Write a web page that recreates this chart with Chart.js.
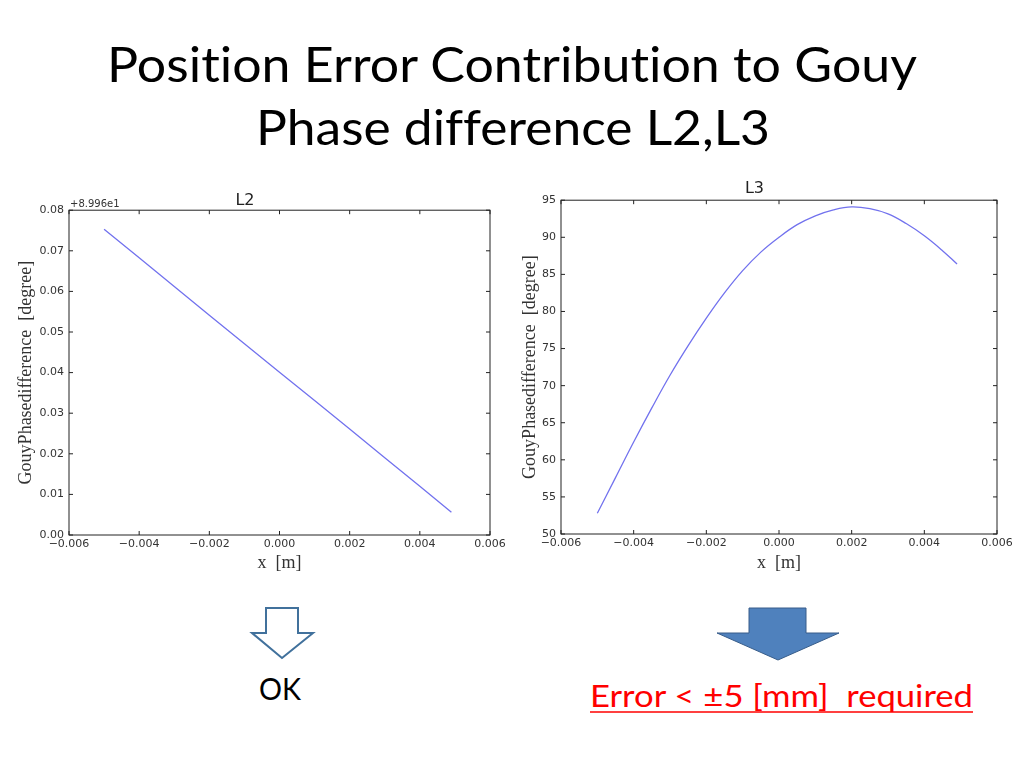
<!DOCTYPE html>
<html>
<head>
<meta charset="utf-8">
<script src="https://cdn.jsdelivr.net/npm/chart.js@4.4.1/dist/chart.umd.min.js"></script>
<style>
  html, body { margin: 0; padding: 0; background: #fff; }
  #slide { position: relative; width: 1024px; height: 768px; overflow: hidden; background: #fff; }
  #overlay { position: absolute; left: 0; top: 0; font-variant-ligatures: none; }
  #overlay text { white-space: pre; }
  .box { position: absolute; }
</style>
</head>
<body>
<div id="slide">
  <svg id="overlay" width="1024" height="768" font-family="Lato, 'Open Sans', sans-serif" xml:space="preserve">
    <text x="107" y="82" font-size="49" fill="#000" textLength="810" lengthAdjust="spacingAndGlyphs">Position Error Contribution to Gouy</text>
    <text x="256" y="145" font-size="49" fill="#000" textLength="514" lengthAdjust="spacingAndGlyphs">Phase difference L2,L3</text>

    <polygon points="266,608 298,608 298,633 313,633 282,658 252,633 266,633" fill="#fff" stroke="#41719c" stroke-width="2"/>
    <polygon points="749,608 806,608 806,633 839,633 778,660 717,633 749,633" fill="#4f81bd" stroke="#385d8a" stroke-width="1"/>

    <text x="259" y="700" font-size="31" fill="#000" textLength="42" lengthAdjust="spacingAndGlyphs">OK</text>
    <text x="590" y="707" font-size="31" fill="#ff0000" textLength="383" lengthAdjust="spacingAndGlyphs">Error &lt; ±5 [mm]  required</text>
    <line x1="590" y1="712" x2="973" y2="712" stroke="#ff0000" stroke-width="1.5"/>
  </svg>
  <div class="box" style="left:0;top:185px;width:512px;height:400px"><canvas id="c2" width="512" height="400"></canvas></div>
  <div class="box" style="left:512px;top:175px;width:512px;height:410px"><canvas id="c3" width="512" height="410"></canvas></div>
</div>

<script>
// L2 (values shown relative to the +8.996e1 offset)
const l2X = [-0.005, -0.004, -0.003, -0.002, -0.001, 0, 0.001, 0.002, 0.003, 0.004, 0.0049];
const l2Y = [0.0753, 0.0683, 0.0612, 0.0541, 0.0471, 0.0401, 0.0331, 0.0261, 0.0190, 0.0120, 0.0056];

// L3
const l3X = [-0.005, -0.0045, -0.004, -0.0035, -0.003, -0.0025, -0.002, -0.0015, -0.001, -0.0005,
             0, 0.0005, 0.001, 0.0015, 0.002, 0.0025, 0.003, 0.0035, 0.004, 0.0045, 0.0049];
const l3Y = [52.8, 57.6, 62.4, 67.0, 71.4, 75.4, 79.1, 82.5, 85.5, 88.0,
             90.0, 91.7, 92.9, 93.7, 94.1, 93.85, 93.15, 91.85, 90.2, 88.2, 86.4];

const xTicks = [-0.006, -0.004, -0.002, 0, 0.002, 0.004, 0.006];
const l2Ticks = [0, 0.01, 0.02, 0.03, 0.04, 0.05, 0.06, 0.07, 0.08];
const l3Ticks = [50, 55, 60, 65, 70, 75, 80, 85, 90, 95];

const tickFont = { family: 'DejaVu Sans', size: 11 };
const labelFont = { family: 'Liberation Serif', size: 18 };

// matplotlib-like frame with inward ticks on all four sides
const frameTicks = {
  id: 'frameTicks',
  afterDraw(chart, args, opts) {
    const { ctx, chartArea: a, scales: { x, y } } = chart;
    ctx.save();
    ctx.strokeStyle = '#222';
    ctx.lineWidth = 1;
    ctx.strokeRect(a.left, a.top, a.right - a.left, a.bottom - a.top);
    ctx.beginPath();
    x.ticks.forEach(t => {
      const px = x.getPixelForValue(t.value);
      ctx.moveTo(px, a.bottom); ctx.lineTo(px, a.bottom - 4);
      ctx.moveTo(px, a.top); ctx.lineTo(px, a.top + 4);
    });
    y.ticks.forEach(t => {
      const py = y.getPixelForValue(t.value);
      ctx.moveTo(a.left, py); ctx.lineTo(a.left + 4, py);
      ctx.moveTo(a.right, py); ctx.lineTo(a.right - 4, py);
    });
    ctx.stroke();
    if (opts.offsetText) {
      ctx.fillStyle = '#333';
      ctx.font = '10px "DejaVu Sans"';
      ctx.textBaseline = 'bottom';
      ctx.textAlign = 'left';
      ctx.fillText(opts.offsetText, a.left + 1, a.top - 1);
    }
    ctx.restore();
  }
};

function fmtX(v) {
  const r = Math.round(v * 1000) / 1000;
  return r.toFixed(3).replace('-', '\u2212');
}

function makeChart(id, xs, ys, yTicks, cfg) {
  const pts = xs.map((v, i) => ({ x: v, y: ys[i] }));
  return new Chart(document.getElementById(id), {
    type: 'scatter',
    data: {
      datasets: [{
        data: pts,
        showLine: true,
        borderColor: '#7272ee',
        borderWidth: 1.3,
        pointRadius: 0,
        tension: cfg.tension,
        fill: false
      }]
    },
    options: {
      responsive: false,
      animation: false,
      layout: { padding: { top: 0, right: cfg.padRight, left: 0, bottom: 0 } },
      plugins: {
        legend: { display: false },
        tooltip: { enabled: false },
        title: {
          display: true, text: cfg.title, color: '#222',
          font: { family: 'DejaVu Sans', size: 16, weight: 'normal' },
          padding: cfg.titlePad
        },
        frameTicks: { offsetText: cfg.offsetText || '' }
      },
      scales: {
        x: {
          type: 'linear', min: -0.006, max: 0.006,
          afterBuildTicks: s => { s.ticks = xTicks.map(v => ({ value: v })); },
          afterFit: s => { s.height = cfg.xHeight; },
          grid: { display: false, drawTicks: false },
          border: { display: false },
          ticks: { autoSkip: false, maxRotation: 0, padding: 3, color: '#333', font: tickFont, callback: v => fmtX(v) },
          title: { display: true, text: 'x  [m]', color: '#333', font: labelFont, padding: cfg.xTitlePad }
        },
        y: {
          type: 'linear', min: yTicks[0], max: yTicks[yTicks.length - 1],
          afterBuildTicks: s => { s.ticks = yTicks.map(v => ({ value: v })); },
          afterFit: s => { s.width = cfg.yWidth; },
          grid: { display: false, drawTicks: false },
          border: { display: false },
          ticks: { autoSkip: false, padding: 5, color: '#333', font: tickFont, callback: cfg.yFmt },
          title: { display: true, text: 'GouyPhasedifference  [degree]', color: '#333', font: labelFont, padding: cfg.yTitlePad }
        }
      }
    },
    plugins: [frameTicks]
  });
}

makeChart('c2', l2X, l2Y, l2Ticks, {
  title: 'L2', titlePad: { top: 6, bottom: 0 }, padRight: 22, tension: 0,
  xHeight: 50, yWidth: 69, xTitlePad: 11, yTitlePad: 15,
  offsetText: '+8.996e1', yFmt: v => (Math.round(v * 100) / 100).toFixed(2)
});

makeChart('c3', l3X, l3Y, l3Ticks, {
  title: 'L3', titlePad: { top: 4, bottom: 2 }, padRight: 27, tension: 0.4,
  xHeight: 51, yWidth: 49, xTitlePad: 11, yTitlePad: 7,
  yFmt: v => String(Math.round(v))
});
</script>
</body>
</html>
